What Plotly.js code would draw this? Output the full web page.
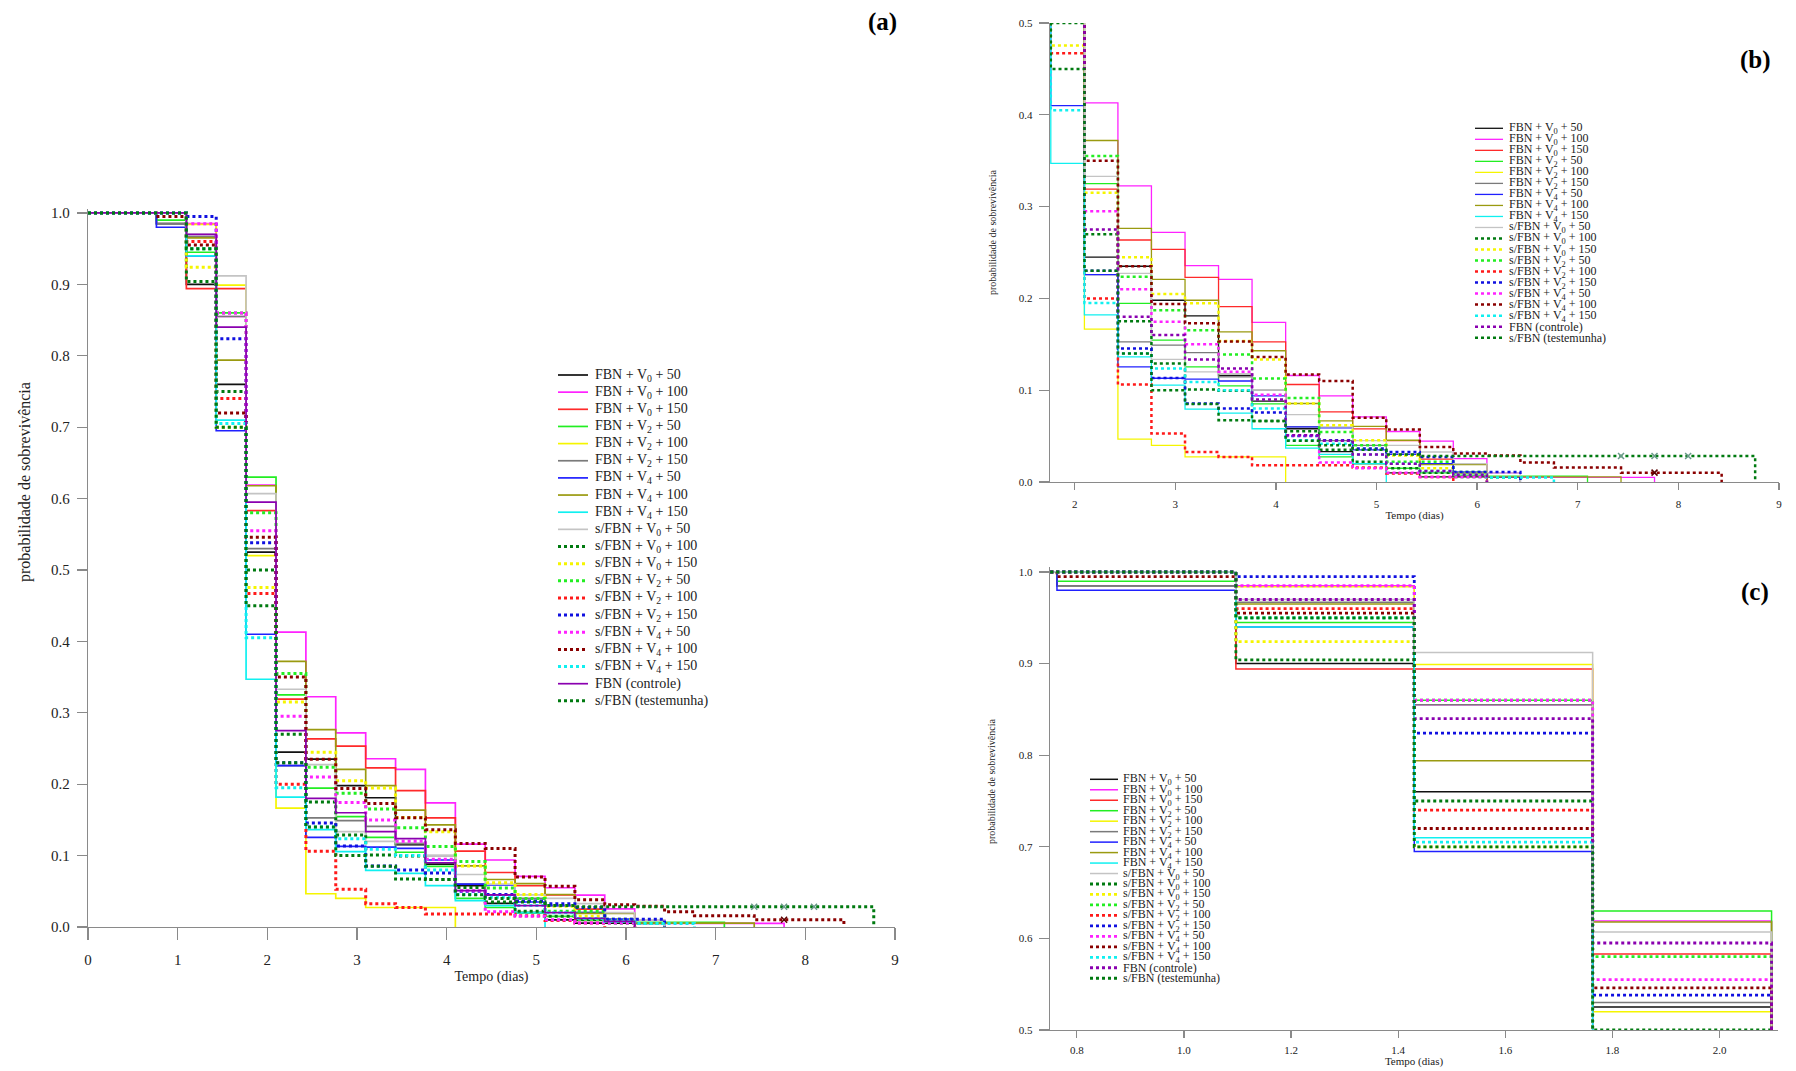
<!DOCTYPE html>
<html>
<head>
<meta charset="utf-8">
<script src="https://cdn.plot.ly/plotly-3.0.1.min.js"></script>
<style>
  html, body { margin: 0; padding: 0; background: #ffffff; }
  #chart { width: 1796px; height: 1071px; }
</style>
</head>
<body>
<div id="chart"></div>
<script>
// Evaluation times (days) at which the survival estimate steps down
const times = [0.763, 1.097, 1.43, 1.763, 2.097, 2.43, 2.763, 3.097, 3.43, 3.763,
               4.097, 4.43, 4.763, 5.097, 5.43, 5.763, 6.097, 6.43, 6.763, 7.097,
               7.43, 7.763, 8.097, 8.43, 8.763];

// Kaplan-Meier survival probability after each step (last value = end of curve)
const survFbnV0_50  = [0.985, 0.90, 0.76, 0.525, 0.245, 0.235, 0.198, 0.181, 0.116, 0.088, 0.058, 0.033, 0.02, 0.01, 0.0055, 0.0055, 0];
const survFbnV0_100 = [1, 0.985, 0.855, 0.619, 0.413, 0.3225, 0.272, 0.2356, 0.2207, 0.1738, 0.116, 0.0938, 0.071, 0.055, 0.0446, 0.0255, 0.01, 0.005, 0.005, 0.005, 0.005, 0];
const survFbnV0_150 = [1, 0.894, 0.894, 0.583, 0.319, 0.2636, 0.2534, 0.2229, 0.191, 0.1527, 0.1062, 0.0763, 0.0578, 0.045, 0.025, 0.01, 0];
const survFbnV2_50  = [0.99, 0.945, 0.86, 0.63, 0.325, 0.1946, 0.1545, 0.1254, 0.1047, 0.085, 0.04, 0.0273, 0.02, 0.015, 0.01, 0.0075, 0.0065, 0.0065, 0.0065, 0];
const survFbnV2_100 = [1, 0.984, 0.899, 0.52, 0.1665, 0.0466, 0.04, 0.0273, 0.0273, 0.0273, 0];
const survFbnV2_150 = [0.985, 0.967, 0.855, 0.53, 0.226, 0.1527, 0.149, 0.141, 0.1145, 0.10, 0.06, 0.045, 0.04, 0.03, 0.02, 0.01, 0.005, 0];
const survFbnV4_50  = [0.98, 0.94, 0.695, 0.41, 0.226, 0.1254, 0.113, 0.112, 0.11, 0.0938, 0.06, 0.059, 0.035, 0.03, 0.02, 0.011, 0.005, 0];
const survFbnV4_100 = [1, 0.965, 0.794, 0.618, 0.372, 0.2763, 0.2207, 0.198, 0.1636, 0.143, 0.0855, 0.0665, 0.0607, 0.0455, 0.019, 0.019, 0.0055, 0.0055, 0.0055, 0.0055, 0];
const survFbnV4_150 = [1, 0.94, 0.71, 0.347, 0.182, 0.1363, 0.1055, 0.0793, 0.075, 0.058, 0.037, 0.03, 0.02, 0];
const survSV0_50    = [1, 0.97, 0.912, 0.607, 0.333, 0.2273, 0.1335, 0.12, 0.118, 0.10, 0.0735, 0.06, 0.045, 0.04, 0.0327, 0.02, 0.01, 0];
const survSV0_100   = [1, 0.904, 0.75, 0.50, 0.27, 0.175, 0.129, 0.1008, 0.0995, 0.0665, 0.0553, 0.035, 0.022, 0.015, 0.01, 0.0055, 0];
const survSV0_150   = [1, 0.924, 0.70, 0.4755, 0.315, 0.2447, 0.2047, 0.1946, 0.1535, 0.1335, 0.0855, 0.0618, 0.0455, 0.029, 0.015, 0.01, 0];
const survSV2_50    = [1, 0.95, 0.86, 0.58, 0.355, 0.2236, 0.1872, 0.1654, 0.139, 0.1128, 0.0916, 0.0545, 0.04, 0.022, 0.022, 0.011, 0.005, 0];
const survSV2_100   = [1, 0.96, 0.74, 0.467, 0.20, 0.1062, 0.0528, 0.0327, 0.0273, 0.0182, 0.0182, 0.0182, 0.0157, 0.0092, 0.0055, 0];
const survSV2_150   = [1, 0.995, 0.824, 0.538, 0.23, 0.1455, 0.1134, 0.0855, 0.08, 0.0757, 0.05, 0.0455, 0.0364, 0.0327, 0.0273, 0.011, 0.011, 0];
const survSV4_50    = [1, 0.985, 0.86, 0.555, 0.295, 0.21, 0.1745, 0.15, 0.12, 0.095, 0.0509, 0.0212, 0.015, 0.01, 0.0055, 0.0055, 0];
const survSV4_100   = [0.995, 0.955, 0.72, 0.546, 0.35, 0.235, 0.1938, 0.1728, 0.153, 0.1363, 0.117, 0.110, 0.07, 0.0571, 0.038, 0.031, 0.029, 0.0212, 0.0157, 0.0157, 0.0102, 0.0102, 0.0102, 0];
const survSV4_150   = [1, 0.95, 0.705, 0.405, 0.195, 0.14, 0.1237, 0.109, 0.10, 0.08, 0.0455, 0.0418, 0.03, 0.02, 0.012, 0.008, 0.005, 0.005, 0];
const survControle  = [1, 0.97, 0.84, 0.595, 0.275, 0.18, 0.16, 0.1335, 0.1237, 0.09, 0.0509, 0.045, 0.03, 0.02, 0.012, 0.008, 0];
const survTestemunha = [1, 0.95, 0.70, 0.45, 0.23, 0.14, 0.10, 0.085, 0.0673, 0.0665, 0.045, 0.04, 0.035, 0.03, 0.0283, 0.0283, 0.0283, 0.0283, 0.0283, 0.0283, 0.0283, 0.0283, 0.0283, 0.0283, 0];

// Censored observations (index into times) for the long-tailed curves
const censorTestemunha = [20, 21, 22];
const censorSV4_100 = [21];

const seriesNames = [
  'FBN + V<sub>0</sub> + 50', 'FBN + V<sub>0</sub> + 100', 'FBN + V<sub>0</sub> + 150',
  'FBN + V<sub>2</sub> + 50', 'FBN + V<sub>2</sub> + 100', 'FBN + V<sub>2</sub> + 150',
  'FBN + V<sub>4</sub> + 50', 'FBN + V<sub>4</sub> + 100', 'FBN + V<sub>4</sub> + 150',
  's/FBN + V<sub>0</sub> + 50', 's/FBN + V<sub>0</sub> + 100', 's/FBN + V<sub>0</sub> + 150',
  's/FBN + V<sub>2</sub> + 50', 's/FBN + V<sub>2</sub> + 100', 's/FBN + V<sub>2</sub> + 150',
  's/FBN + V<sub>4</sub> + 50', 's/FBN + V<sub>4</sub> + 100', 's/FBN + V<sub>4</sub> + 150',
  'FBN (controle)', 's/FBN (testemunha)'
];
const seriesValues = [
  survFbnV0_50, survFbnV0_100, survFbnV0_150,
  survFbnV2_50, survFbnV2_100, survFbnV2_150,
  survFbnV4_50, survFbnV4_100, survFbnV4_150,
  survSV0_50, survSV0_100, survSV0_150,
  survSV2_50, survSV2_100, survSV2_150,
  survSV4_50, survSV4_100, survSV4_150,
  survControle, survTestemunha
];
const seriesCensors = { 16: censorSV4_100, 19: censorTestemunha };

// Line styles
const seriesColors = [
  '#111111', '#ff22ff', '#ff2a2a', '#22ee22', '#f5f500', '#7a7a7a', '#2020ff', '#9a9a10', '#10f0f0',
  '#c4c4c4', '#007a10', '#f5f500', '#22ee22', '#ff1a1a', '#1010e0', '#ff22ff', '#8a0000', '#10f0f0',
  '#8a00b0', '#007a10'
];
const seriesDotted = [
  false, false, false, false, false, false, false, false, false,
  false, true, true, true, true, true, true, true, true,
  null, true
];

const FONT = '"Liberation Serif", "Times New Roman", Times, serif';
const W = 1796, H = 1071;
const fx = v => v / W;
const fy = v => 1 - v / H;

const panels = [
  { xa: 'x',  ya: 'y',  solid: 1.7, dot: 3.0, controlDotted: false,
    legend: { x0: 558, x1: 588, tx: 594, y0: 375, dy: 17.15, size: 14 } },
  { xa: 'x2', ya: 'y2', solid: 1.3, dot: 2.5, controlDotted: true,
    legend: { x0: 1475, x1: 1503, tx: 1508, y0: 128.3, dy: 11.02, size: 12 } },
  { xa: 'x3', ya: 'y3', solid: 1.5, dot: 2.8, controlDotted: true,
    legend: { x0: 1090, x1: 1118, tx: 1122, y0: 779.3, dy: 10.47, size: 12 } }
];

const traces = [];
const shapes = [];
const annotations = [];

panels.forEach(p => {
  seriesValues.forEach((vals, i) => {
    const dotted = seriesDotted[i] === null ? p.controlDotted : seriesDotted[i];
    traces.push({
      type: 'scatter',
      mode: 'lines',
      x: [0].concat(times.slice(0, vals.length)),
      y: [1].concat(vals),
      xaxis: p.xa,
      yaxis: p.ya,
      name: seriesNames[i],
      line: {
        color: seriesColors[i],
        width: dotted ? p.dot : p.solid,
        dash: dotted ? 'dot' : 'solid',
        shape: 'hv'
      },
      showlegend: false,
      hoverinfo: 'skip'
    });
    const cens = seriesCensors[i];
    if (cens) {
      traces.push({
        type: 'scatter', mode: 'markers',
        x: cens.map(k => times[k]),
        y: cens.map(k => vals[k]),
        xaxis: p.xa, yaxis: p.ya, showlegend: false, hoverinfo: 'skip',
        marker: { symbol: 'x-thin', size: 6, line: { width: 1.5, color: i === 19 ? '#6a9a8a' : '#5a0000' } }
      });
    }
    const L = p.legend;
    const yy = L.y0 + i * L.dy;
    shapes.push({
      type: 'line', xref: 'paper', yref: 'paper',
      x0: fx(L.x0), x1: fx(L.x1), y0: fy(yy), y1: fy(yy),
      line: { color: seriesColors[i], width: dotted ? p.dot : p.solid, dash: dotted ? 'dot' : 'solid' }
    });
    annotations.push({
      xref: 'paper', yref: 'paper', x: fx(L.tx), y: fy(yy),
      xanchor: 'left', yanchor: 'middle', showarrow: false,
      text: seriesNames[i], borderpad: 0,
      font: { family: FONT, size: L.size, color: '#222222' }
    });
  });
});

// Axis titles placed beside each panel
const ylabel = 'probabilidade de sobrevivência';
[[25, 482, 16], [992, 232, 10], [991, 781, 10]].forEach(([x, y, s]) => {
  annotations.push({
    xref: 'paper', yref: 'paper', x: fx(x), y: fy(y), textangle: -90,
    xanchor: 'center', yanchor: 'middle', showarrow: false, text: ylabel,
    font: { family: FONT, size: s, color: '#222222' }
  });
});
[['(a)', 882, 22], ['(b)', 1755, 60], ['(c)', 1755, 592]].forEach(([t, x, y]) => {
  annotations.push({
    xref: 'paper', yref: 'paper', x: fx(x), y: fy(y),
    xanchor: 'center', yanchor: 'middle', showarrow: false, text: '<b>' + t + '</b>',
    font: { family: FONT, size: 25, color: '#000000' }
  });
});

const axisBase = {
  showline: true, linecolor: '#8a8a8a', linewidth: 1.3,
  ticks: 'outside', tickcolor: '#8a8a8a', tickwidth: 1.3,
  showgrid: false, zeroline: false, fixedrange: true
};

const layout = {
  width: W, height: H,
  margin: { l: 0, r: 0, t: 0, b: 0 },
  paper_bgcolor: '#ffffff', plot_bgcolor: '#ffffff',
  showlegend: false,
  font: { family: FONT, color: '#222222' },
  xaxis: Object.assign({}, axisBase, {
    domain: [fx(88), fx(895)], range: [0, 9], dtick: 1, tick0: 0, anchor: 'y',
    ticklen: 12, ticklabelstandoff: 7, tickfont: { family: FONT, size: 15, color: '#222222' },
    title: { text: 'Tempo (dias)', standoff: 4, font: { family: FONT, size: 14, color: '#222222' } }
  }),
  yaxis: Object.assign({}, axisBase, {
    domain: [fy(927), fy(209.4)], range: [0, 1.005], tickvals: [0, 0.1, 0.2, 0.3, 0.4, 0.5, 0.6, 0.7, 0.8, 0.9, 1.0],
    tickformat: '.1f', anchor: 'x',
    ticklen: 10, ticklabelstandoff: 4, tickfont: { family: FONT, size: 15, color: '#222222' }
  }),
  xaxis2: Object.assign({}, axisBase, {
    domain: [fx(1050), fx(1779)], range: [1.755, 9], dtick: 1, tick0: 0, anchor: 'y2',
    ticklen: 7, ticklabelstandoff: 4, tickfont: { family: FONT, size: 11, color: '#222222' },
    title: { text: 'Tempo (dias)', standoff: 2, font: { family: FONT, size: 11, color: '#222222' } }
  }),
  yaxis2: Object.assign({}, axisBase, {
    domain: [fy(482), fy(23)], range: [0, 0.5], dtick: 0.1, tick0: 0, tickformat: '.1f', anchor: 'x2',
    ticklen: 10, ticklabelstandoff: 4, tickfont: { family: FONT, size: 11, color: '#222222' }
  }),
  xaxis3: Object.assign({}, axisBase, {
    domain: [fx(1050), fx(1778)], range: [0.75, 2.109], dtick: 0.2, tick0: 0, tickformat: '.1f', anchor: 'y3',
    ticklen: 7, ticklabelstandoff: 2, tickfont: { family: FONT, size: 11, color: '#222222' },
    title: { text: 'Tempo (dias)', standoff: 1, font: { family: FONT, size: 11, color: '#222222' } }
  }),
  yaxis3: Object.assign({}, axisBase, {
    domain: [fy(1030), fy(566.5)], range: [0.5, 1.006], tickvals: [0.5, 0.6, 0.7, 0.8, 0.9, 1.0],
    tickformat: '.1f', anchor: 'x3',
    ticklen: 10, ticklabelstandoff: 4, tickfont: { family: FONT, size: 11, color: '#222222' }
  }),
  shapes: shapes,
  annotations: annotations
};

Plotly.newPlot('chart', traces, layout, { displayModeBar: false, staticPlot: true });
</script>
</body>
</html>
